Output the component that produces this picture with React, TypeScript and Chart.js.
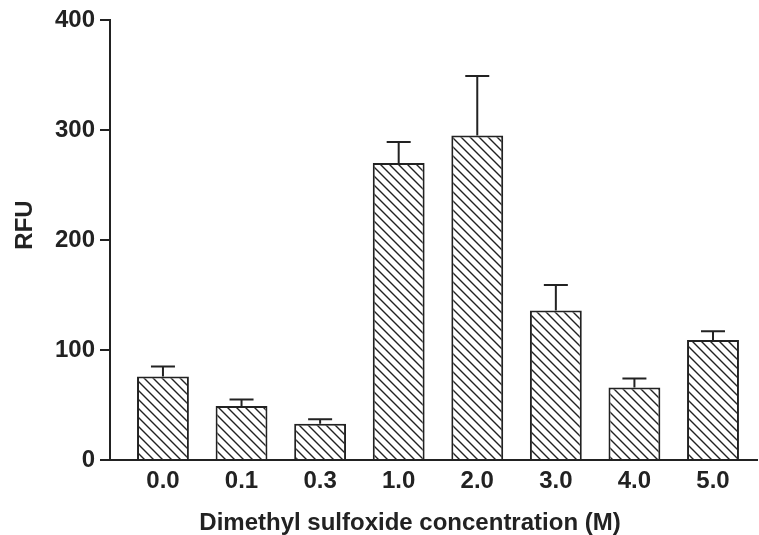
import React, { useEffect, useRef } from "react";
import { Chart, registerables } from "chart.js";

Chart.register(...registerables);

const categories = ["0.0", "0.1", "0.3", "1.0", "2.0", "3.0", "4.0", "5.0"];
const meanValues = [76, 49, 33, 270, 295, 136, 66, 109];
const errorTops = [85, 55, 37, 289, 349, 159, 74, 117];
const yTicks = [0, 100, 200, 300, 400];
const xTitle = "Dimethyl sulfoxide concentration (M)";
const yTitle = "RFU";

const INK = "#222222";
const FONT = "'Liberation Sans', Arial, Helvetica, sans-serif";

function makeHatch(): CanvasPattern | string {
  const s = 9;
  const c = document.createElement("canvas");
  c.width = s;
  c.height = s;
  const g = c.getContext("2d");
  if (!g) return "#fff";
  g.fillStyle = "#ffffff";
  g.fillRect(0, 0, s, s);
  g.strokeStyle = INK;
  g.lineWidth = 1.4;
  g.beginPath();
  g.moveTo(-2, -2);
  g.lineTo(s + 2, s + 2);
  g.moveTo(-2 - s, -2);
  g.lineTo(2, s + 2);
  g.moveTo(s - 2, -2);
  g.lineTo(2 * s + 2, s + 2);
  g.stroke();
  const p = g.createPattern(c, "repeat");
  return p || "#fff";
}

const errorBarPlugin = {
  id: "errorBars",
  afterDatasetsDraw(chart: any) {
    const ctx = chart.ctx;
    const xs = chart.scales.x;
    const ys = chart.scales.y;
    ctx.save();
    ctx.strokeStyle = INK;
    ctx.lineWidth = 2;
    errorTops.forEach((top, i) => {
      const x = xs.getPixelForValue(i);
      const y0 = ys.getPixelForValue(meanValues[i]);
      const y1 = ys.getPixelForValue(top);
      ctx.beginPath();
      ctx.moveTo(x, y0);
      ctx.lineTo(x, y1);
      ctx.moveTo(x - 12, y1);
      ctx.lineTo(x + 12, y1);
      ctx.stroke();
    });
    ctx.restore();
  },
};

const titlesPlugin = {
  id: "axisTitles",
  afterDraw(chart: any) {
    const ctx = chart.ctx;
    ctx.save();
    ctx.fillStyle = INK;
    ctx.font = `bold 24px ${FONT}`;
    ctx.textAlign = "center";
    ctx.textBaseline = "middle";
    ctx.fillText(xTitle, 410, 523);
    ctx.translate(25, 225);
    ctx.rotate(-Math.PI / 2);
    ctx.fillText(yTitle, 0, 0);
    ctx.restore();
  },
};

export default function App() {
  const ref = useRef<HTMLCanvasElement | null>(null);

  useEffect(() => {
    document.body.style.margin = "0";
    const canvas = ref.current;
    if (!canvas) return;
    const hatch = makeHatch();
    const chart = new Chart(canvas, {
      type: "bar",
      data: {
        datasets: [
          {
            data: meanValues.map((v, i) => ({ x: i, y: v })),
            backgroundColor: hatch as any,
            borderColor: INK,
            borderWidth: 2,
            borderSkipped: "bottom",
            barPercentage: 0.66,
            categoryPercentage: 1,
          },
        ],
      },
      options: {
        animation: false,
        responsive: false,
        maintainAspectRatio: false,
        layout: { padding: { top: 20, right: 2, left: 0, bottom: 0 } },
        plugins: {
          legend: { display: false },
          tooltip: { enabled: false },
          title: { display: false },
        },
        scales: {
          x: {
            type: "linear",
            offset: false,
            bounds: "ticks",
            min: -0.674,
            max: 7.56,
            afterDataLimits: (scale: any) => {
              scale.min = -0.674;
              scale.max = 7.56;
            },
            afterBuildTicks: (scale: any) => {
              scale.ticks = categories.map((_, i) => ({ value: i }));
            },
            afterFit: (scale: any) => {
              scale.height = 75;
            },
            grid: { display: false, drawTicks: false },
            border: { display: true, width: 2, color: INK },
            ticks: {
              autoSkip: false,
              maxRotation: 0,
              padding: 7,
              color: INK,
              font: { family: FONT, size: 24, weight: "bold" },
              callback: (v: any) => categories[Math.round(Number(v))] ?? "",
            },
            title: { display: false },
          },
          y: {
            type: "linear",
            min: 0,
            max: 400,
            afterBuildTicks: (scale: any) => {
              scale.ticks = yTicks.map((v) => ({ value: v }));
            },
            afterFit: (scale: any) => {
              scale.width = 110;
            },
            grid: {
              drawOnChartArea: false,
              drawTicks: true,
              tickLength: 10,
              lineWidth: 2,
              color: INK,
            },
            border: { display: true, width: 2, color: INK },
            ticks: {
              padding: 5,
              color: INK,
              font: { family: FONT, size: 24, weight: "bold" },
            },
            title: { display: false },
          },
        },
      } as any,
      plugins: [errorBarPlugin, titlesPlugin],
    });
    return () => chart.destroy();
  }, []);

  return (
    <div style={{ width: 759, height: 535, background: "#fff" }}>
      <canvas ref={ref} width={759} height={535} style={{ display: "block" }} />
    </div>
  );
}
